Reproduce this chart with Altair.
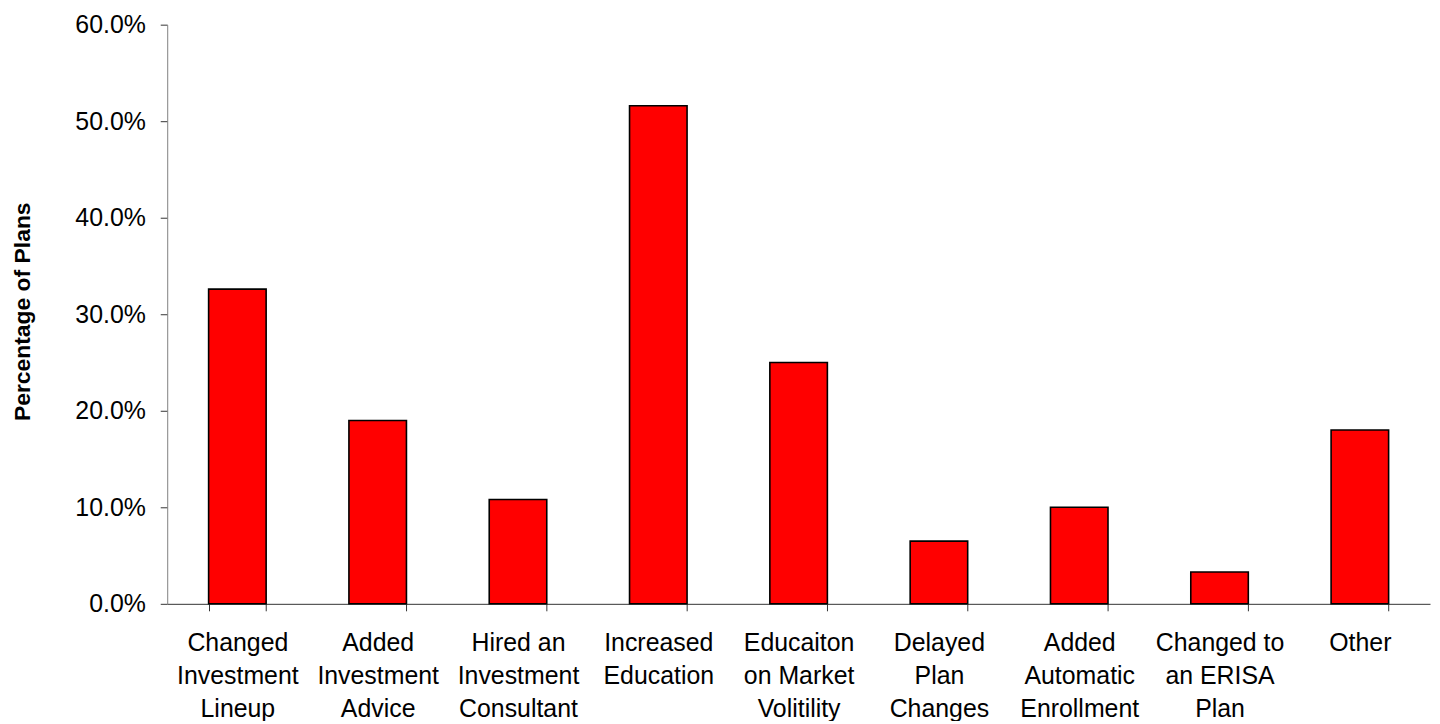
import altair as alt
import pandas as pd

categories = [
    "Changed\nInvestment\nLineup",
    "Added\nInvestment\nAdvice",
    "Hired an\nInvestment\nConsultant",
    "Increased\nEducation",
    "Educaiton\non Market\nVolitility",
    "Delayed\nPlan\nChanges",
    "Added\nAutomatic\nEnrollment",
    "Changed to\nan ERISA\nPlan",
    "Other",
]
values = [0.326, 0.190, 0.108, 0.516, 0.250, 0.065, 0.100, 0.033, 0.180]
y_ticks = [0.0, 0.1, 0.2, 0.3, 0.4, 0.5, 0.6]

df = pd.DataFrame({"category": categories, "value": values})

FONT = "Liberation Sans"

chart = (
    alt.Chart(df)
    .mark_bar(color="#FF0000", stroke="#000000", strokeWidth=1.6)
    .encode(
        x=alt.X(
            "category:N",
            sort=categories,
            scale=alt.Scale(paddingInner=0.59, paddingOuter=0.295),
            axis=alt.Axis(
                title=None,
                labelAngle=0,
                labelExpr="datum.value ? split(datum.value, '\\n') : ''",
                labelFont=FONT,
                labelFontSize=25,
                labelColor="#000000",
                labelLineHeight=33,
                labelPadding=20,
                labelBaseline="top",
                labelAlign="center",
                tickBand="extent",
                tickSize=7,
                tickColor="#333333",
                domainColor="#333333",
                labelLimit=300,
            ),
        ),
        y=alt.Y(
            "value:Q",
            scale=alt.Scale(domain=[0, 0.6], nice=False),
            axis=alt.Axis(
                title="Percentage of Plans",
                values=y_ticks,
                format=".1%",
                grid=False,
                labelFont=FONT,
                labelFontSize=25,
                labelColor="#000000",
                labelPadding=15,
                tickSize=7,
                tickColor="#333333",
                domainColor="#808080",
                titleFont=FONT,
                titleFontSize=23,
                titleFontWeight="bold",
                titleColor="#000000",
                titleAngle=270,
                titleX=-145,
                titleY=288,
                titleAlign="center",
                titleBaseline="middle",
            ),
        ),
    )
    .properties(
        width=1269,
        height=582,
        autosize=alt.AutoSizeParams(type="none"),
        padding={"left": 160, "top": 15, "right": 2, "bottom": 116},
    )
    .configure_view(stroke=None)
)

chart.save("out.html", embed_options={"renderer": "svg", "actions": False})
